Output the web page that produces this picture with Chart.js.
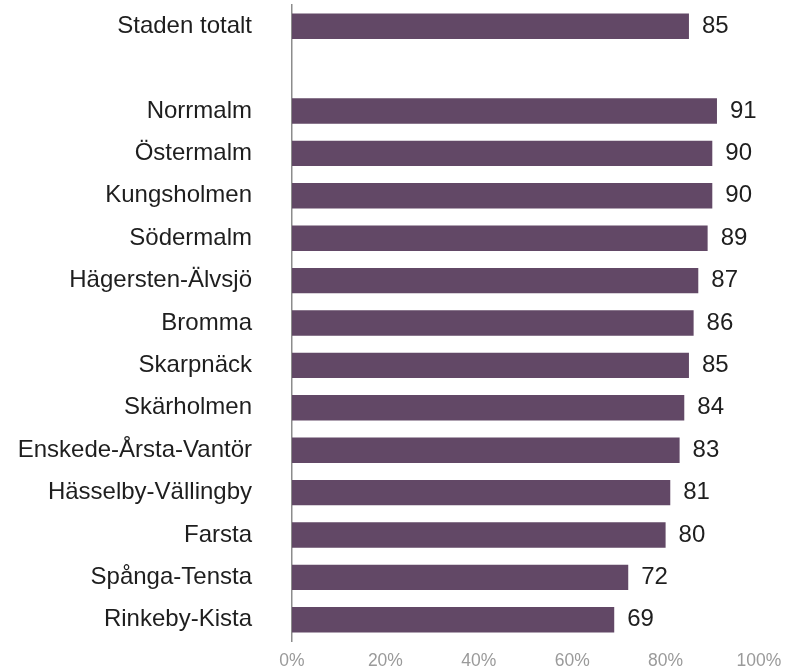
<!DOCTYPE html>
<html>
<head>
<meta charset="utf-8">
<script src="https://cdn.jsdelivr.net/npm/chart.js@4/dist/chart.umd.min.js"></script>
<style>
  html, body { margin: 0; padding: 0; background: #fff; }
  #wrap { width: 793px; height: 671px; }
</style>
</head>
<body>
<div id="wrap"><canvas id="chart" width="793" height="671"></canvas></div>
<script>
// categories, top to bottom ('' = empty spacer row)
const areas = [
  'Staden totalt', '',
  'Norrmalm', 'Östermalm', 'Kungsholmen', 'Södermalm', 'Hägersten-Älvsjö',
  'Bromma', 'Skarpnäck', 'Skärholmen', 'Enskede-Årsta-Vantör',
  'Hässelby-Vällingby', 'Farsta', 'Spånga-Tensta', 'Rinkeby-Kista'
];
const shares = [85, null, 91, 90, 90, 89, 87, 86, 85, 84, 83, 81, 80, 72, 69];
const xTicks = [0, 20, 40, 60, 80, 100];

const fontFamily = '"Liberation Sans", Arial, sans-serif';

// draws the number to the right of each bar
const valueLabels = {
  id: 'valueLabels',
  afterDatasetsDraw(chart) {
    const ctx = chart.ctx;
    const meta = chart.getDatasetMeta(0);
    ctx.save();
    ctx.font = '24px ' + fontFamily;
    ctx.fillStyle = '#1e1e1e';
    ctx.textAlign = 'left';
    ctx.textBaseline = 'middle';
    meta.data.forEach((bar, i) => {
      if (shares[i] == null) return;
      ctx.fillText(shares[i], bar.x + 13, bar.y);
    });
    ctx.restore();
  }
};

new Chart(document.getElementById('chart'), {
  type: 'bar',
  data: {
    labels: areas,
    datasets: [{
      data: shares,
      backgroundColor: '#624866',
      categoryPercentage: 1,
      barPercentage: 0.6
    }]
  },
  options: {
    indexAxis: 'y',
    responsive: false,
    animation: false,
    layout: { padding: { top: 5, right: 34, bottom: 0, left: 0 } },
    plugins: { legend: { display: false }, tooltip: { enabled: false } },
    scales: {
      x: {
        min: 0,
        max: 100,
        afterBuildTicks(scale) { scale.ticks = xTicks.map(v => ({ value: v })); },
        afterFit(scale) { scale.height = 30; },
        grid: { display: false },
        border: { display: false },
        ticks: {
          color: '#9a9a9a',
          padding: 2,
          font: { family: fontFamily, size: 17.5 },
          callback: v => v + '%'
        }
      },
      y: {
        afterFit(scale) {
          scale.width = 292;
          // tick padding would otherwise be added above and below the axis
          scale.paddingTop = 0;
          scale.paddingBottom = 0;
        },
        grid: { display: false },
        border: { display: true, color: '#8c8c8c', width: 1.5 },
        ticks: {
          color: '#1e1e1e',
          padding: 32,
          autoSkip: false,
          font: { family: fontFamily, size: 24 }
        }
      }
    }
  },
  plugins: [valueLabels]
});
</script>
</body>
</html>
